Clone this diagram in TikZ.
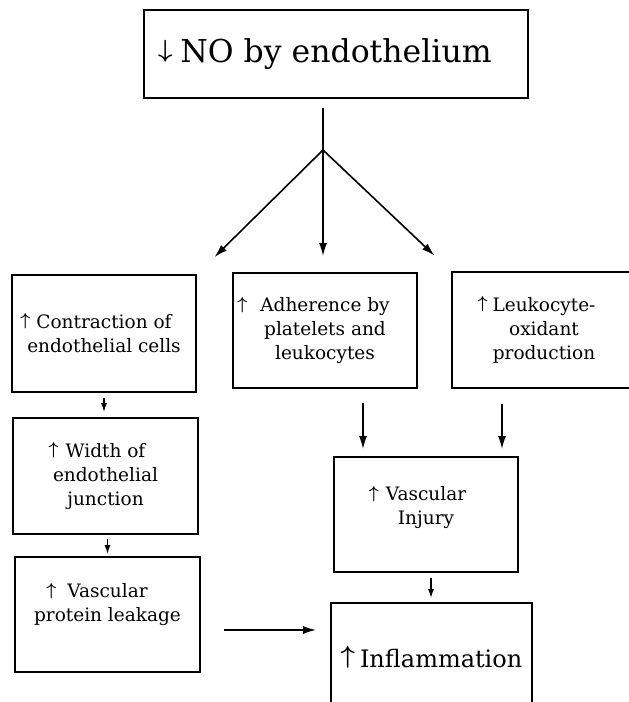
\documentclass[tikz,border=0pt]{standalone}
\usepackage{amsmath}
\usepackage{fontspec}
\setmainfont{DejaVu Serif}
\usepackage{tikz}
\usetikzlibrary{arrows.meta}
\usetikzlibrary{calc}

\tikzset{
  box/.style={draw,rectangle,line width=1.8pt,minimum width=184pt,inner sep=0pt,align=center,font=\fontsize{18.5}{24}\selectfont},
  arr/.style={line width=1.6pt,-{Latex[length=13pt,width=8pt]}},
  sarr/.style={line width=1.4pt,-{Latex[length=9pt,width=6pt]}}
}
\newcommand{\incr}[1]{\llap{\raisebox{.15em}{$\boldsymbol{\uparrow}$}\hspace{#1}}}
\newcommand{\sink}[1]{\rule[-#1]{0pt}{#1}}

\begin{document}
\begin{tikzpicture}[x=1pt,y=-1pt]
        \useasboundingbox (0,0) rectangle (629,702);
        \clip (0,0) rectangle (629,702);
        \node[box,minimum width=384pt,minimum height=88pt,font=\fontsize{31.5}{36}\selectfont] (no) at (336,54) {\llap{\raisebox{.17em}{$\boldsymbol{\downarrow}$}\hspace{8pt}}NO by endothelium};
        \node[box,minimum height=117pt] (contr) at (104,333.5) {\incr{6pt}Contraction of\\endothelial cells};
        \node[box,minimum height=115pt] (adh) at (325,330.5) {\incr{13pt}Adherence by\\platelets and\\leukocytes};
        \node[box,minimum height=116pt] (leuk) at (544,330) {\incr{5pt}Leukocyte-\\oxidant\\production};
        \node[box,minimum width=185pt,minimum height=116pt] (width) at (105.5,476) {\incr{7pt}Width of\\endothelial\\junction};
        \node[box,minimum width=185pt,minimum height=115pt] (prot) at (107.5,614.5) {\incr{11pt}Vascular\\protein leakage\sink{24pt}};
        \node[box,minimum height=115pt] (inj) at (426,514.5) {\incr{7pt}Vascular\\Injury\sink{18pt}};
        \node[box,minimum width=201pt,minimum height=109pt,font=\fontsize{24}{28}\selectfont] (infl) at (431.5,657.5) {\raisebox{.15em}{$\boldsymbol{\uparrow}$}\hspace{5pt}Inflammation};
        \coordinate (fork) at (323,150);
        \draw[line width=1.6pt,shorten <=9pt] (fork |- no.south) -- (fork);
        \draw[arr] (fork) -- ($(contr.north east)!.5!(adh.north west)+(0,-16)$);
        \draw[arr,shorten >=16pt] (fork) -- (fork |- adh.north);
        \draw[arr] (fork) -- ($(adh.north east)!.5!(leuk.north west)+(0,-16)$);
        \draw[sarr,shorten <=5pt,shorten >=5pt] (contr.south) -- (contr.south |- width.north);
        \draw[sarr,shorten <=4pt,shorten >=2pt] ([xshift=2pt]width.south) -- ([xshift=2pt]width.south |- prot.north);
        \draw[arr,shorten <=14pt,shorten >=7pt] ([xshift=38pt]adh.south) -- ([xshift=38pt]adh.south |- inj.north);
        \draw[arr,shorten <=15pt,shorten >=7pt] ([xshift=-42pt]leuk.south) -- ([xshift=-42pt]leuk.south |- inj.north);
        \draw[sarr,shorten <=5pt,shorten >=4pt] ([xshift=5pt]inj.south) -- ([xshift=5pt]inj.south |- infl.north);
        \draw[arr,shorten <=23pt,shorten >=14pt] ([yshift=-15.5pt]prot.east) -- ([yshift=-15.5pt]prot.east -| infl.west);
\end{tikzpicture}
\end{document}
